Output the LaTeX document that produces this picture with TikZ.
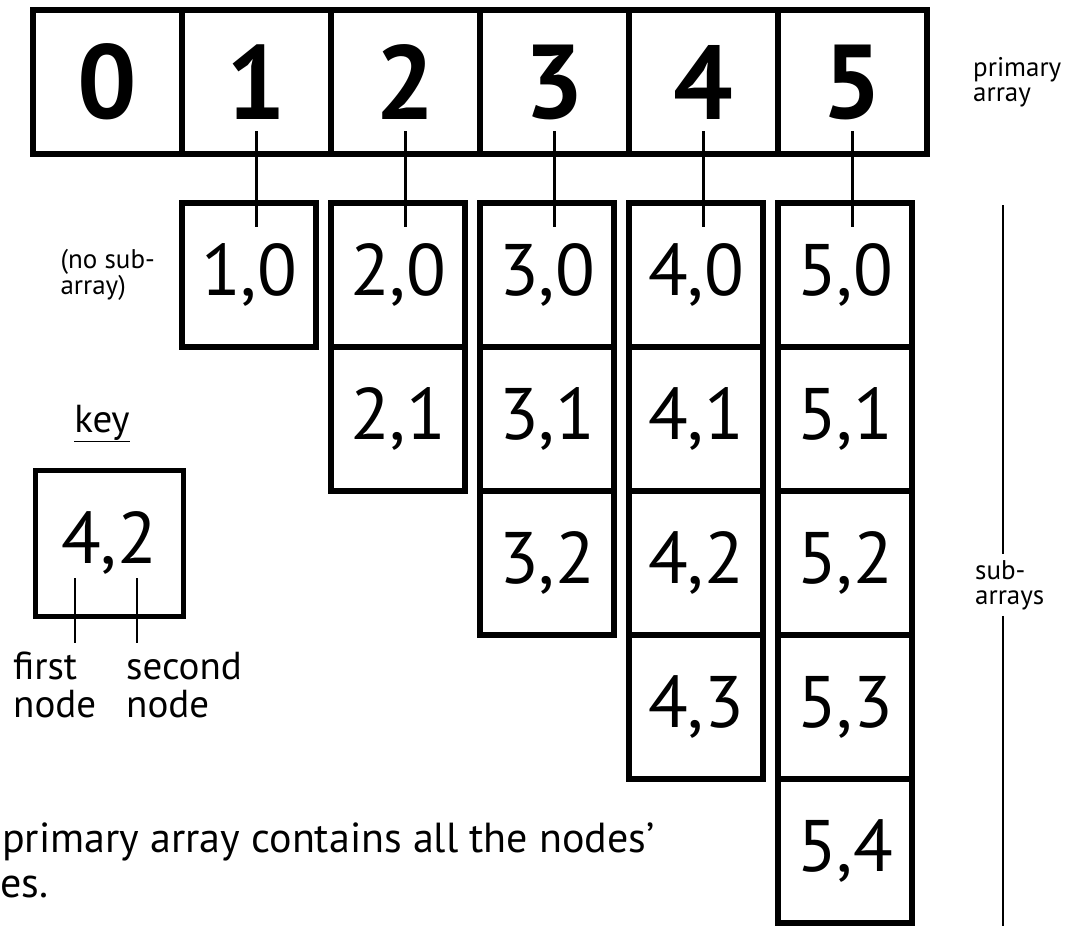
\documentclass[tikz,border=0pt]{standalone}
\usepackage{fontspec}
\setmainfont{PT Sans}
\usetikzlibrary{positioning,calc}

\begin{document}
\begin{tikzpicture}[
  x=1pt, y=-1pt,
  cell/.style={draw, line width=6pt, outer sep=0pt, inner sep=0pt,
               minimum width=149pt, minimum height=144pt,
               font=\fontsize{105}{105}\selectfont\bfseries},
  sub/.style={draw, line width=6pt, outer sep=0pt, inner sep=0pt,
              minimum width=134pt, minimum height=144pt,
              font=\fontsize{73}{73}\selectfont},
  link/.style={line width=3.5pt},
  tick/.style={line width=2.5pt},
  note/.style={font=\fontsize{27}{25}\selectfont, align=left, inner sep=0pt},
  keytext/.style={font=\fontsize{39}{38}\selectfont, align=left, inner sep=0pt},
  bigtext/.style={font=\fontsize{42}{45}\selectfont, align=left, inner sep=0pt}
]
\useasboundingbox (0,0) rectangle (1091,926);

% primary array
\node[cell, anchor=north west] (p0) at (33,10) {0};
\node[cell, right=0pt of p0] (p1) {1};
\node[cell, right=0pt of p1] (p2) {2};
\node[cell, right=0pt of p2] (p3) {3};
\node[cell, right=0pt of p3] (p4) {4};
\node[cell, right=0pt of p4] (p5) {5};
\node[note, right=46pt of p5] (primlbl) {primary\\array};

% sub-arrays
\node[sub, below=49pt of p1.south west, anchor=north west] (s10) {1,0};

\node[sub, below=49pt of p2.south west, anchor=north west] (s20) {2,0};
\node[sub, below=0pt of s20] (s21) {2,1};

\node[sub, below=49pt of p3.south west, anchor=north west] (s30) {3,0};
\node[sub, below=0pt of s30] (s31) {3,1};
\node[sub, below=0pt of s31] (s32) {3,2};

\node[sub, below=49pt of p4.south west, anchor=north west] (s40) {4,0};
\node[sub, below=0pt of s40] (s41) {4,1};
\node[sub, below=0pt of s41] (s42) {4,2};
\node[sub, below=0pt of s42] (s43) {4,3};

\node[sub, below=49pt of p5.south west, anchor=north west] (s50) {5,0};
\node[sub, below=0pt of s50] (s51) {5,1};
\node[sub, below=0pt of s51] (s52) {5,2};
\node[sub, below=0pt of s52] (s53) {5,3};
\node[sub, below=0pt of s53] (s54) {5,4};

% links from primary cells down into the first sub-array boxes
\draw[link] ([yshift=23pt]p1.south) -- ($(p1.south |- s10.north)+(0,24)$);
\draw[link] ([yshift=23pt]p2.south) -- ($(p2.south |- s20.north)+(0,24)$);
\draw[link] ([yshift=23pt]p3.south) -- ($(p3.south |- s30.north)+(0,24)$);
\draw[link] ([yshift=23pt]p4.south) -- ($(p4.south |- s40.north)+(0,24)$);
\draw[link] ([yshift=23pt]p5.south) -- ($(p5.south |- s50.north)+(0,24)$);

\node[note, left=27pt of s10] (nosub) {(no sub-\\array)};

% key
\node[sub, line width=5pt, minimum width=148pt, minimum height=146pt,
      anchor=north west] (keybox) at (35,470) {4,2};
\node[keytext, anchor=base] (keylbl) at (102,432) {\underline{key}};
\node[keytext, anchor=north west] (firstlbl) at (13,652) {first\\node};
\node[keytext, anchor=north west] (secondlbl) at (126,652) {second\\node};
\coordinate (tk1) at (75,578);
\coordinate (tk2) at (137,578);
\draw[tick] (tk1) -- ++(0,65);
\draw[tick] (tk2) -- ++(0,65);

% sub-array bracket on the right
\node[note, anchor=west, inner sep=6pt] (sublbl) at (969,585) {sub-\\arrays};
\coordinate (brtop) at (1003,205);
\coordinate (brbot) at (1003,926);
\draw[tick] (brtop) -- (brtop |- sublbl.north);
\draw[tick] (brbot |- sublbl.south) -- (brbot);

% caption, cut at the left edge
\node[bigtext, anchor=base west] (caption) at (2,852) {primary array contains all the nodes'};
\node[bigtext, anchor=base west] (caption2) at (0,897) {es.};

\end{tikzpicture}
\end{document}
